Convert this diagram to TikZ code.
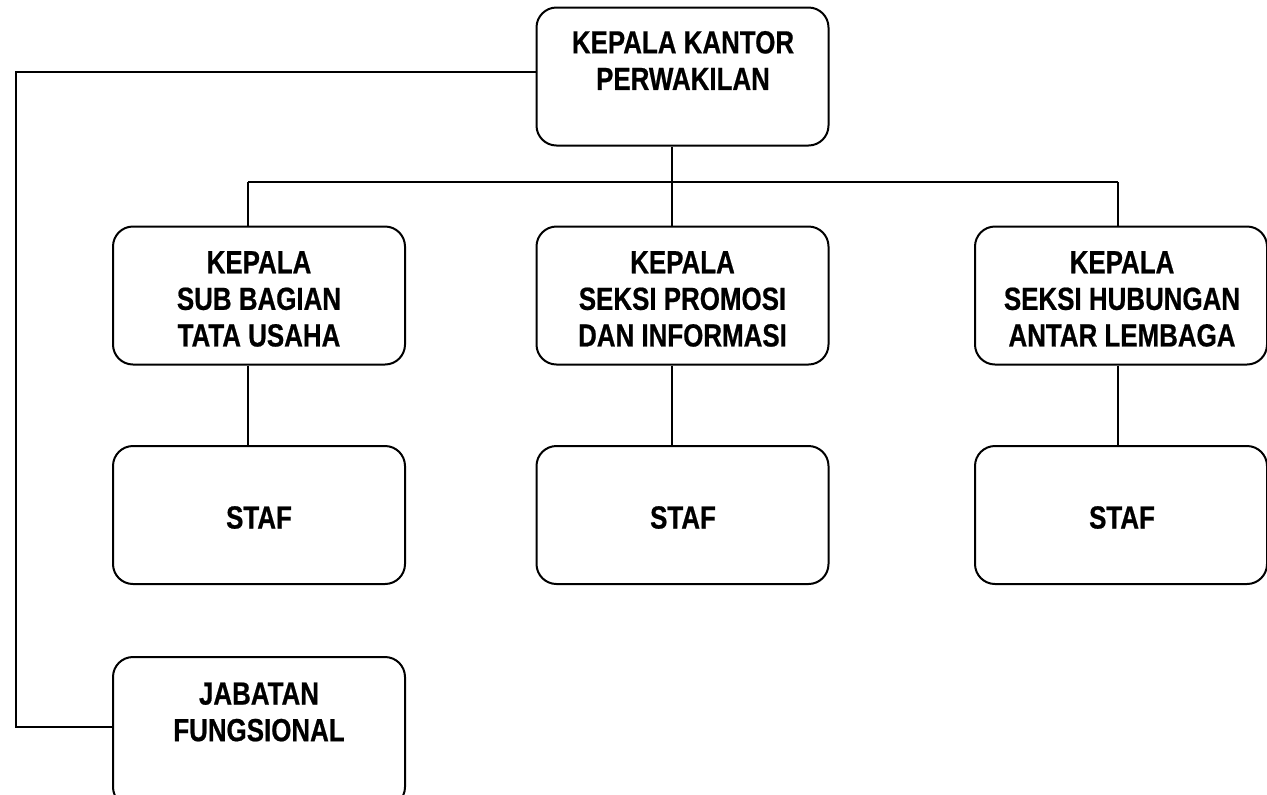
\documentclass[tikz,border=0pt]{standalone}
\usepackage{fontspec}
\setmainfont[FakeStretch=0.81,FakeBold=0.6]{Liberation Sans}
\begin{document}
\begin{tikzpicture}[x=0.5pt,y=-0.5pt,line width=1pt,
  kotak/.style={draw,rounded corners=10pt,minimum width=146pt,minimum height=69pt,inner sep=0pt},
  teks/.style={inner sep=0pt,align=center,font=\fontsize{16pt}{18.3pt}\selectfont\bfseries}]
\useasboundingbox (0,0) rectangle (1267,794);
% kotak
\node [kotak] (kepala) at (682.5,76.5) {};
\node [kotak] (subbag) at (259,295.5) {};
\node [kotak] (promosi) at (682.5,295.5) {};
\node [kotak] (hubungan) at (1121,295.5) {};
\node [kotak] (staf1) at (259,515) {};
\node [kotak] (staf2) at (682.5,515) {};
\node [kotak] (staf3) at (1121,515) {};
\node [kotak,minimum height=75pt] (jabatan) at (259,732) {};

% teks
\node [teks] (tkepala) at (683,60.5) {KEPALA KANTOR\\PERWAKILAN};
\node [teks] (tsubbag) at (259,299) {KEPALA\\SUB BAGIAN\\TATA USAHA};
\node [teks] (tpromosi) at (682.5,299) {KEPALA\\SEKSI PROMOSI\\DAN INFORMASI};
\node [teks] (thubungan) at (1122,299) {KEPALA\\SEKSI HUBUNGAN\\ANTAR LEMBAGA};
\node [teks] (tstaf1) at (259,517.5) {STAF};
\node [teks] (tstaf2) at (683,517.5) {STAF};
\node [teks] (tstaf3) at (1122,517.5) {STAF};
\node [teks] (tjabatan) at (259,712) {JABATAN\\FUNGSIONAL};

% garis
\coordinate (c1) at (248,182);
\coordinate (c2) at (672,182);
\coordinate (c3) at (1118,182);
\coordinate (c4) at (16,72);
\coordinate (c5) at (16,727);
\draw (c1) -- (c3);
\draw (kepala.south -| c2) -- (promosi.north -| c2);
\draw (c1) -- (subbag.north -| c1);
\draw (c3) -- (hubungan.north -| c3);
\draw (subbag.south -| c1) -- (staf1.north -| c1);
\draw (promosi.south -| c2) -- (staf2.north -| c2);
\draw (hubungan.south -| c3) -- (staf3.north -| c3);
\draw (kepala.west |- c4) -- (c4) -- (c5) -- (jabatan.west |- c5);

\end{tikzpicture}
\end{document}
